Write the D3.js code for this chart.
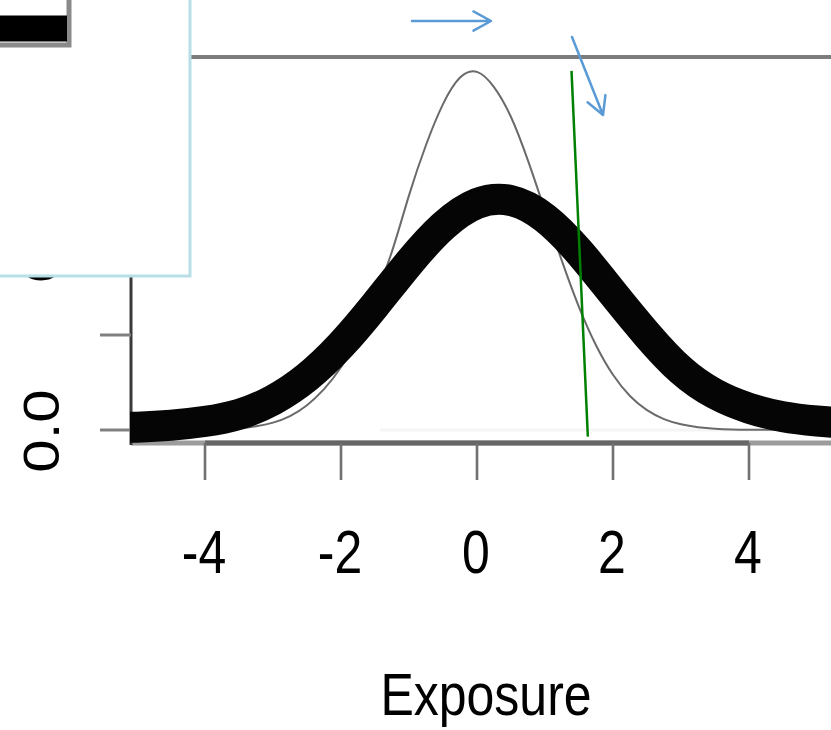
<!DOCTYPE html>
<html>
<head>
<meta charset="utf-8">
<script src="https://cdn.jsdelivr.net/npm/d3@7/dist/d3.min.js"></script>
<style>
  html, body { margin: 0; padding: 0; background: #fff; overflow: hidden; }
  svg { display: block; }
  text { font-family: "Liberation Sans", Arial, sans-serif; fill: #000; }
</style>
</head>
<body>
<script>
// ---- data ----
const xTicks = [-4, -2, 0, 2, 4];
const xTickLabels = ["-4", "-2", "0", "2", "4"];
const yTicks = [0, 0.1, 0.2, 0.3];
const yLabelValues = [0, 0.2];
const yLabelTexts = ["0.0", "0.2"];
const xTitle = "Exposure";

// thin grey density
const thinX = [-5.5,-5,-4.5,-4,-3.75,-3.5,-3.25,-3,-2.75,-2.5,-2.25,-2,-1.75,-1.5,-1.25,-1,-0.75,-0.5,-0.25,0,0.25,0.5,0.75,1,1.25,1.5,1.75,2,2.25,2.5,2.75,3,3.25,3.5,3.75,4,4.5,5,5.5];
const thinY = [0,0,0.0001,0.0004,0.0009,0.0019,0.004,0.0078,0.0147,0.0261,0.0430,0.066,0.098,0.140,0.188,0.247,0.300,0.343,0.371,0.377,0.361,0.3295,0.2836,0.2308,0.1777,0.1294,0.0892,0.0581,0.0358,0.0209,0.0115,0.006,0.003,0.0014,0.0006,0.0003,0.0001,0,0];

// thick black density
const thickX = [-5.5,-5,-4.5,-4,-3.5,-3,-2.5,-2,-1.5,-1,-0.5,0,0.5,1,1.5,2,2.5,3,3.5,4,4.5,5,5.5];
const thickY = [0.002,0.003,0.005,0.009,0.0165,0.0315,0.0555,0.0894,0.1313,0.1758,0.2144,0.2384,0.2415,0.2230,0.1876,0.1438,0.1005,0.0630,0.0380,0.0230,0.0140,0.0095,0.0065];

// green nearly vertical segment [x1, y1, x2, y2]
const greenSeg = [1.39, 0.378, 1.63, -0.007];
// blue annotation arrows [x1, y1, x2, y2]
const arrowA = [-0.956, 0.4305, 0.206, 0.4305];
const arrowB = [1.397, 0.4137, 1.853, 0.3316];

// ---- layout ----
const W = 831, H = 730;
const svg = d3.select("body").append("svg").attr("width", W).attr("height", H);

const x = d3.scaleLinear().domain([-4, 4]).range([205, 749]);
const y = d3.scaleLinear().domain([0, 0.1]).range([430, 335]);

const plot = { left: 131, top: 57, right: 900, bottom: 444 };

svg.append("defs").append("clipPath").attr("id", "clip")
  .append("rect").attr("x", plot.left - 1).attr("y", plot.top)
  .attr("width", plot.right - plot.left).attr("height", plot.bottom - plot.top);

// faint zero line
svg.append("line").attr("x1", 380).attr("x2", W).attr("y1", y(0)).attr("y2", y(0))
  .attr("stroke", "#f5f5f5").attr("stroke-width", 3);

// box
svg.append("line").attr("x1", plot.left).attr("x2", W + 5).attr("y1", plot.top).attr("y2", plot.top)
  .attr("stroke", "#7d7d7d").attr("stroke-width", 4);
svg.append("line").attr("x1", plot.left).attr("x2", W + 5).attr("y1", 443).attr("y2", 443)
  .attr("stroke", "#9c9c9c").attr("stroke-width", 5);

// x axis line + ticks
svg.append("line").attr("x1", x(xTicks[0])).attr("x2", x(xTicks[xTicks.length - 1]))
  .attr("y1", 443).attr("y2", 443).attr("stroke", "#666").attr("stroke-width", 5);
svg.selectAll(".xt").data(xTicks).enter().append("line")
  .attr("x1", d => x(d)).attr("x2", d => x(d)).attr("y1", 443).attr("y2", 480)
  .attr("stroke", "#707070").attr("stroke-width", 2.6);
svg.selectAll(".xl").data(xTicks).enter().append("text")
  .attr("transform", d => `translate(${x(d) - 1},573) scale(1,1.22)`)
  .attr("text-anchor", "middle").attr("font-size", 50)
  .text((d, i) => xTickLabels[i]);

// x title
svg.append("text").attr("transform", "translate(486,715) scale(1,1.17)")
  .attr("text-anchor", "middle").attr("font-size", 50).text(xTitle);

// y axis
svg.append("line").attr("x1", plot.left).attr("x2", plot.left).attr("y1", plot.top).attr("y2", 445)
  .attr("stroke", "#3a3a3a").attr("stroke-width", 3);
svg.selectAll(".yt").data(yTicks).enter().append("line")
  .attr("x1", 100).attr("x2", plot.left).attr("y1", d => y(d)).attr("y2", d => y(d))
  .attr("stroke", "#808080").attr("stroke-width", 3);
svg.selectAll(".yl").data(yLabelValues).enter().append("text")
  .attr("transform", d => `translate(59,${y(d) + 1}) scale(1,1.2) rotate(-90)`)
  .attr("text-anchor", "middle").attr("font-size", 50)
  .text((d, i) => yLabelTexts[i]);

// curves
const g = svg.append("g").attr("clip-path", "url(#clip)");
const line = d3.line().x(d => x(d[0])).y(d => y(d[1])).curve(d3.curveNatural);
g.append("path").datum(thinX.map((v, i) => [v, thinY[i]]))
  .attr("d", line).attr("fill", "none").attr("stroke", "#6a6a6a").attr("stroke-width", 2);
g.append("path").datum(thickX.map((v, i) => [v, thickY[i]]))
  .attr("d", line).attr("fill", "none").attr("stroke", "#050505").attr("stroke-width", 31);

// green segment
svg.append("line")
  .attr("x1", x(greenSeg[0])).attr("y1", y(greenSeg[1]))
  .attr("x2", x(greenSeg[2])).attr("y2", y(greenSeg[3]))
  .attr("stroke", "#008000").attr("stroke-width", 2.5);

// legend
const lg = svg.append("g");
lg.append("rect").attr("x", -10).attr("y", -10).attr("width", 200).attr("height", 286)
  .attr("fill", "#fff").attr("stroke", "#b7dfe5").attr("stroke-width", 3);
lg.append("path").attr("d", "M-10,45 H69 V-10").attr("fill", "none")
  .attr("stroke", "#8a8a8a").attr("stroke-width", 5);
lg.append("line").attr("x1", -10).attr("x2", 67).attr("y1", 28.5).attr("y2", 28.5)
  .attr("stroke", "#000").attr("stroke-width", 26);

// blue arrows
function arrow(a) {
  const x1 = x(a[0]), y1 = y(a[1]), x2 = x(a[2]), y2 = y(a[3]);
  const ang = Math.atan2(y2 - y1, x2 - x1), L = 20, spread = 0.5;
  const p1 = [x2 - L * Math.cos(ang - spread), y2 - L * Math.sin(ang - spread)];
  const p2 = [x2 - L * Math.cos(ang + spread), y2 - L * Math.sin(ang + spread)];
  svg.append("path")
    .attr("d", `M${x1},${y1}L${x2},${y2}M${p1[0]},${p1[1]}L${x2},${y2}L${p2[0]},${p2[1]}`)
    .attr("fill", "none").attr("stroke", "#5b9bd5").attr("stroke-width", 2.5)
    .attr("stroke-linecap", "round").attr("stroke-linejoin", "round");
}
arrow(arrowA);
arrow(arrowB);
</script>
</body>
</html>
